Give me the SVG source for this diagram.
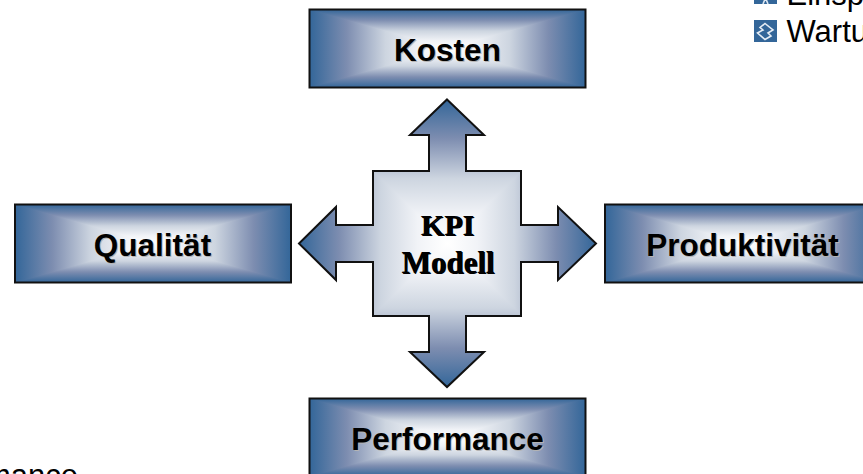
<svg xmlns="http://www.w3.org/2000/svg" width="863" height="474" viewBox="0 0 863 474">
<style>
.edge{fill:none;stroke:#111;stroke-width:2;stroke-linejoin:miter}
.lbl{font-family:"Liberation Sans",Arial,sans-serif;font-weight:bold;font-size:31.5px;text-anchor:middle;fill:#000}
.shadow{fill:#b4b4b4}
.mid{font-family:"Liberation Serif","Times New Roman",serif;font-weight:bold;font-size:30px;text-anchor:middle;fill:#000}
.plain{font-family:"Liberation Sans",Arial,sans-serif;font-size:31px;fill:#000}
</style>
<defs>
<linearGradient id="ramp"><stop offset="0" stop-color="#336699"/><stop offset=".27" stop-color="#7d8db0"/><stop offset=".55" stop-color="#cdd5e0"/><stop offset=".8" stop-color="#f1f3f7"/><stop offset="1" stop-color="#fff"/></linearGradient>
<linearGradient id="rampMirror"><stop offset="0" stop-color="#336699"/><stop offset=".135" stop-color="#7d8db0"/><stop offset=".275" stop-color="#cdd5e0"/><stop offset=".4" stop-color="#f1f3f7"/><stop offset=".5" stop-color="#fff"/><stop offset=".6" stop-color="#f1f3f7"/><stop offset=".725" stop-color="#cdd5e0"/><stop offset=".865" stop-color="#7d8db0"/><stop offset="1" stop-color="#336699"/></linearGradient>
<linearGradient id="v"  href="#ramp" x1="0" y1="0" x2="0" y2="1"/>
<linearGradient id="vr" href="#ramp" x1="0" y1="1" x2="0" y2="0"/>
<linearGradient id="hh" href="#rampMirror" x1="0" y1="0" x2="1" y2="0"/>
<g id="fill"><!-- box 276x78 centred on 0,0 -->
<rect x="-138" y="-39" width="276" height="78" fill="url(#hh)"/>
<polygon points="-138,-39 138,-39 0,0" fill="url(#v)"/>
<polygon points="-138,39 138,39 0,0" fill="url(#vr)"/>
<rect x="-138" y="-39" width="276" height="78" class="edge"/>
</g>
<clipPath id="cross"><path d="M447,99.5 L484,135 H466 V171 H521 V225 H558 V207 L596,243.5 L558,280 V262 H521 V316 H466 V352 H484 L447,387 L410,352 H429 V316 H373 V262 H336 V280 L299,243.5 L336,207 V225 H373 V171 H429 V135 H410 Z"/></clipPath>
</defs>

<g id="connectors">
<g clip-path="url(#cross)">
<rect x="299" y="99.5" width="297" height="287.5" fill="url(#hh)"/>
<polygon points="299,99.5 596,99.5 447.5,243.25" fill="url(#v)"/>
<polygon points="299,387 596,387 447.5,243.25" fill="url(#vr)"/>
</g>
<path class="edge" d="M447,99.5 L484,135 H466 V171 H521 V225 H558 V207 L596,243.5 L558,280 V262 H521 V316 H466 V352 H484 L447,387 L410,352 H429 V316 H373 V262 H336 V280 L299,243.5 L336,207 V225 H373 V171 H429 V135 H410 Z"/>
</g>

<g id="node-kpi">
<text class="mid shadow" x="448.5" y="236">KPI</text><text class="mid" x="447.5" y="235">KPI</text>
<text class="mid shadow" style="font-size:31px" x="449" y="274">Modell</text><text class="mid" style="font-size:31px" x="448" y="273">Modell</text>
</g>

<g id="node-kosten">
<use href="#fill" x="447.5" y="48.5"/>
<text class="lbl shadow" x="448.5" y="62">Kosten</text><text class="lbl" x="447.5" y="61">Kosten</text>
</g>
<g id="node-qualitaet">
<use href="#fill" x="153" y="243.5"/>
<text class="lbl shadow" x="153.5" y="257">Qualität</text><text class="lbl" x="152.5" y="256">Qualität</text>
</g>
<g id="node-produktivitaet">
<use href="#fill" x="743" y="243.5"/>
<text class="lbl shadow" x="743.5" y="257">Produktivität</text><text class="lbl" x="742.5" y="256">Produktivität</text>
</g>
<g id="node-performance">
<use href="#fill" x="447.5" y="437.5"/>
<text class="lbl shadow" x="448.5" y="451">Performance</text><text class="lbl" x="447.5" y="450">Performance</text>
</g>

<g id="bullets">
<rect x="754" y="-18" width="23" height="22" fill="#336699"/>
<path d="M763,4 L765.5,-2 L768,4" fill="none" stroke="#dfe8f2" stroke-width="1.6"/>
<rect x="754" y="20" width="23" height="22" fill="#336699"/>
<path d="M765,23.5 L773,30 L768,33 L771,36 L765,39.5 L757.5,33 L763,30 L760,27.5 Z" fill="none" stroke="#e6edf5" stroke-width="1.6"/>
<text class="plain" x="786.5" y="5">Einsp</text>
<text class="plain" x="786.5" y="42">Wartu</text>
<text class="plain" x="78" y="486" text-anchor="end">mance</text>
</g>
</svg>
